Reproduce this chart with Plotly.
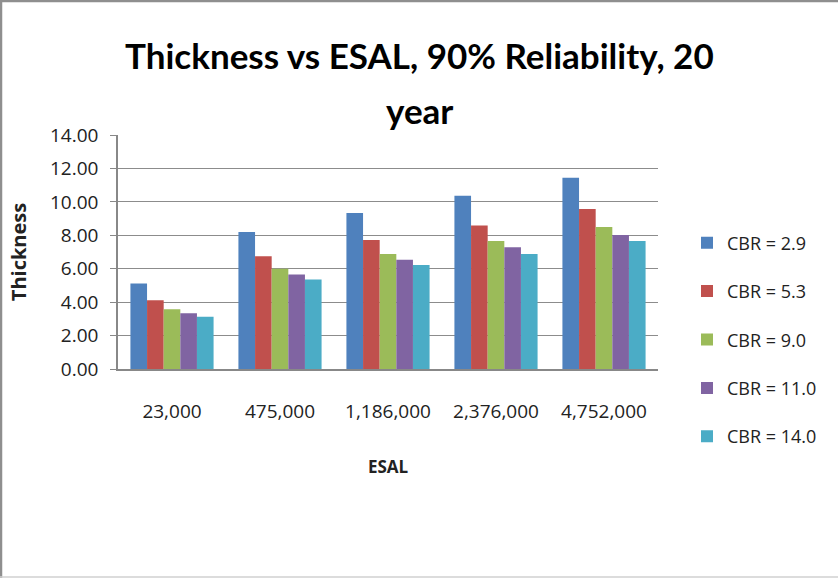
import plotly.graph_objects as go

categories = ["23,000", "475,000", "1,186,000", "2,376,000", "4,752,000"]
series_names = ["CBR = 2.9", "CBR = 5.3", "CBR = 9.0", "CBR = 11.0", "CBR = 14.0"]
cbr_2_9 = [5.12, 8.20, 9.34, 10.36, 11.44]
cbr_5_3 = [4.12, 6.74, 7.72, 8.58, 9.58]
cbr_9_0 = [3.58, 6.00, 6.88, 7.66, 8.50]
cbr_11_0 = [3.34, 5.66, 6.54, 7.28, 8.02]
cbr_14_0 = [3.12, 5.36, 6.22, 6.88, 7.66]
y_ticks = [0, 2, 4, 6, 8, 10, 12, 14]
y_tick_labels = ["0.00", "2.00", "4.00", "6.00", "8.00", "10.00", "12.00", "14.00"]
title_lines = ["Thickness vs ESAL, 90% Reliability, 20", "year"]

colors = ["#4F81BD", "#C0504D", "#9BBB59", "#8064A2", "#4BACC6"]
all_series = [cbr_2_9, cbr_5_3, cbr_9_0, cbr_11_0, cbr_14_0]

W, H = 838, 578
L, R, T, B = 118, 180, 135, 209
PW, PH = W - L - R, H - T - B


def px(x):
    return (x - L) / PW


def py(y):
    return (H - B - y) / PH


FONT = "Open Sans"
TFONT = "Lato, sans-serif"
fig = go.Figure()
for i, (name, vals) in enumerate(zip(series_names, all_series)):
    fig.add_trace(go.Bar(x=categories, y=vals, name=name, legendgroup=name,
                         marker=dict(color=colors[i], line=dict(width=0))))

fig.update_layout(
    width=W, height=H,
    margin=dict(l=L, r=R, t=T, b=B),
    paper_bgcolor="white", plot_bgcolor="white",
    barmode="group", bargap=0.23, bargroupgap=0,
    font=dict(family=FONT, color="#222222"),
    legend=dict(x=px(687), xanchor="left", y=py(339.5), yanchor="middle",
                font=dict(family=FONT, size=18, color="#222222"),
                tracegroupgap=22, itemwidth=30, bgcolor="rgba(0,0,0,0)",
                maxheight=450),
    xaxis=dict(title=dict(text="<b>ESAL</b>", font=dict(family=FONT, size=17, color="#222222"), standoff=39),
               tickfont=dict(family=FONT, size=19, color="#222222"),
               showline=True, linecolor="#888888", linewidth=1.5,
               ticks="", ticklabelstandoff=24, showgrid=False),
    yaxis=dict(title=dict(text="<b>Thickness</b>", font=dict(family=FONT, size=20, color="#222222"), standoff=18),
               tickvals=y_ticks, ticktext=y_tick_labels, range=[0, 14],
               tickfont=dict(family=FONT, size=19, color="#222222"),
               showline=True, linecolor="#888888", linewidth=1.5,
               ticks="outside", ticklen=6, tickcolor="#888888", ticklabelstandoff=8,
               showgrid=True, gridcolor="#8c8c8c", gridwidth=1.2, zeroline=False),
)
for text, yc in zip(title_lines, [55, 110]):
    fig.add_annotation(text="<b>" + text + "</b>", xref="paper", yref="paper",
                       x=px(W / 2), y=py(yc), xanchor="center", yanchor="middle",
                       showarrow=False, font=dict(family=TFONT, size=35, color="black"))
# chart frame (top, left, bottom edges)
fig.add_shape(type="line", xref="paper", yref="paper", x0=px(0), x1=px(W), y0=py(1), y1=py(1),
              line=dict(color="#8f8f8f", width=2.5))
fig.add_shape(type="line", xref="paper", yref="paper", x0=px(1), x1=px(1), y0=py(0), y1=py(H),
              line=dict(color="#8f8f8f", width=2.5))
fig.add_shape(type="line", xref="paper", yref="paper", x0=px(0), x1=px(W), y0=py(H - 1), y1=py(H - 1),
              line=dict(color="#d0d0d0", width=1.5))
fig.write_html("out.html", config={"displayModeBar": False},
               post_script="document.body.style.margin='0';document.body.style.overflow='hidden';")
